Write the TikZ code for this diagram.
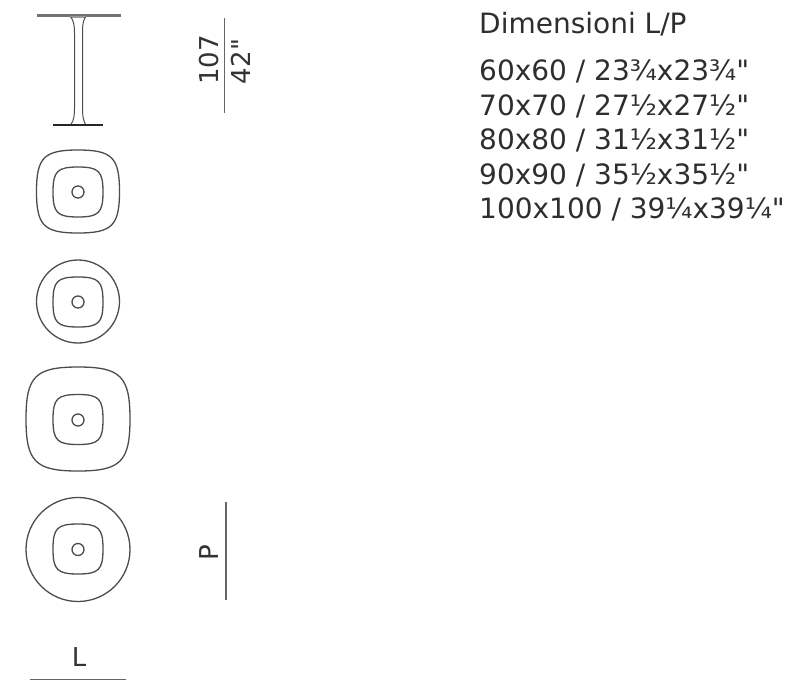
\documentclass[tikz,border=0pt]{standalone}
\usepackage{fontspec}
\setmainfont[Ligatures=TeXOff]{DejaVu Sans}
\tikzset{
  outline/.style={draw=black!70,line width=1.3pt},
  dimline/.style={draw=black!60,line width=1.2pt},
  dimtext/.style={text=black!80,font=\fontsize{26}{26}\selectfont,inner sep=0pt},
  listtext/.style={text=black!82,font=\fontsize{28}{28}\selectfont,inner sep=0pt,anchor=base west},
}
\newcommand{\squircle}[4]{% cx, cy, half, k
  \draw[outline] (#1,#2-#3) .. controls (#1+#4*#3,#2-#3) and (#1+#3,#2-#4*#3) .. (#1+#3,#2)
    .. controls (#1+#3,#2+#4*#3) and (#1+#4*#3,#2+#3) .. (#1,#2+#3)
    .. controls (#1-#4*#3,#2+#3) and (#1-#3,#2+#4*#3) .. (#1-#3,#2)
    .. controls (#1-#3,#2-#4*#3) and (#1-#4*#3,#2-#3) .. cycle;}
\begin{document}
\begin{tikzpicture}[x=1pt,y=-1pt]
\useasboundingbox (0,0) rectangle (800,699);
% table elevation
\fill[black!55] (37,13.5) rectangle (120.5,16.5);
\fill[black!40] (70,16) rectangle (86,18);
\draw[outline,line width=1pt] (71,17) .. controls (73.5,21) and (74.5,25) .. (74.5,33) -- (74.5,108) .. controls (74.5,115) and (74,120) .. (71,124.5);
\draw[outline,line width=1pt] (85.5,17) .. controls (83,21) and (82.5,25) .. (82.5,33) -- (82.5,108) .. controls (82.5,115) and (83,120) .. (85.5,124.5);
\draw[black!85,line width=1.6pt] (53,125) -- (102.5,125);
% height dimension
\coordinate (ha) at (224.5,18);
\coordinate (hb) at (224.5,112.5);
\draw[dimline] (ha) -- (hb);
\node[dimtext,rotate=90] (h1) at (209,60) {107};
\node[dimtext,rotate=90] (h2) at (241,61.5) {42"};
% plan views
\squircle{78}{191.5}{41.5}{0.82}
\squircle{78}{192}{25}{0.83}
\draw[outline] (78,192) circle (6);
\draw[outline] (78,301.5) circle (41.5);
\squircle{78}{302}{25}{0.83}
\draw[outline] (78,302) circle (6);
\squircle{78}{419}{52}{0.82}
\squircle{78}{419.5}{25}{0.83}
\draw[outline] (78,420) circle (6);
\draw[outline] (78,549.5) circle (52);
\squircle{78}{549}{25}{0.83}
\draw[outline] (78,549.5) circle (6);
% P and L
\coordinate (pa) at (226,502);
\coordinate (pb) at (226,600);
\draw[dimline] (pa) -- (pb);
\node[dimtext,rotate=90] (p) at (209,553) {P};
\coordinate (la) at (30,679.5);
\coordinate (lb) at (126,679.5);
\draw[dimline,line width=1pt] (la) -- (lb);
\node[dimtext] (l) at (79,657) {L};
% list
\node[listtext] (t0) at (479,33) {Dimensioni L/P};
\node[listtext] (t1) at (479,80) {60x60 / 23¾x23¾"};
\node[listtext] (t2) at (479,115) {70x70 / 27½x27½"};
\node[listtext] (t3) at (479,149) {80x80 / 31½x31½"};
\node[listtext] (t4) at (479,184) {90x90 / 35½x35½"};
\node[listtext] (t5) at (479,218) {100x100 / 39¼x39¼"};
\end{tikzpicture}
\end{document}
